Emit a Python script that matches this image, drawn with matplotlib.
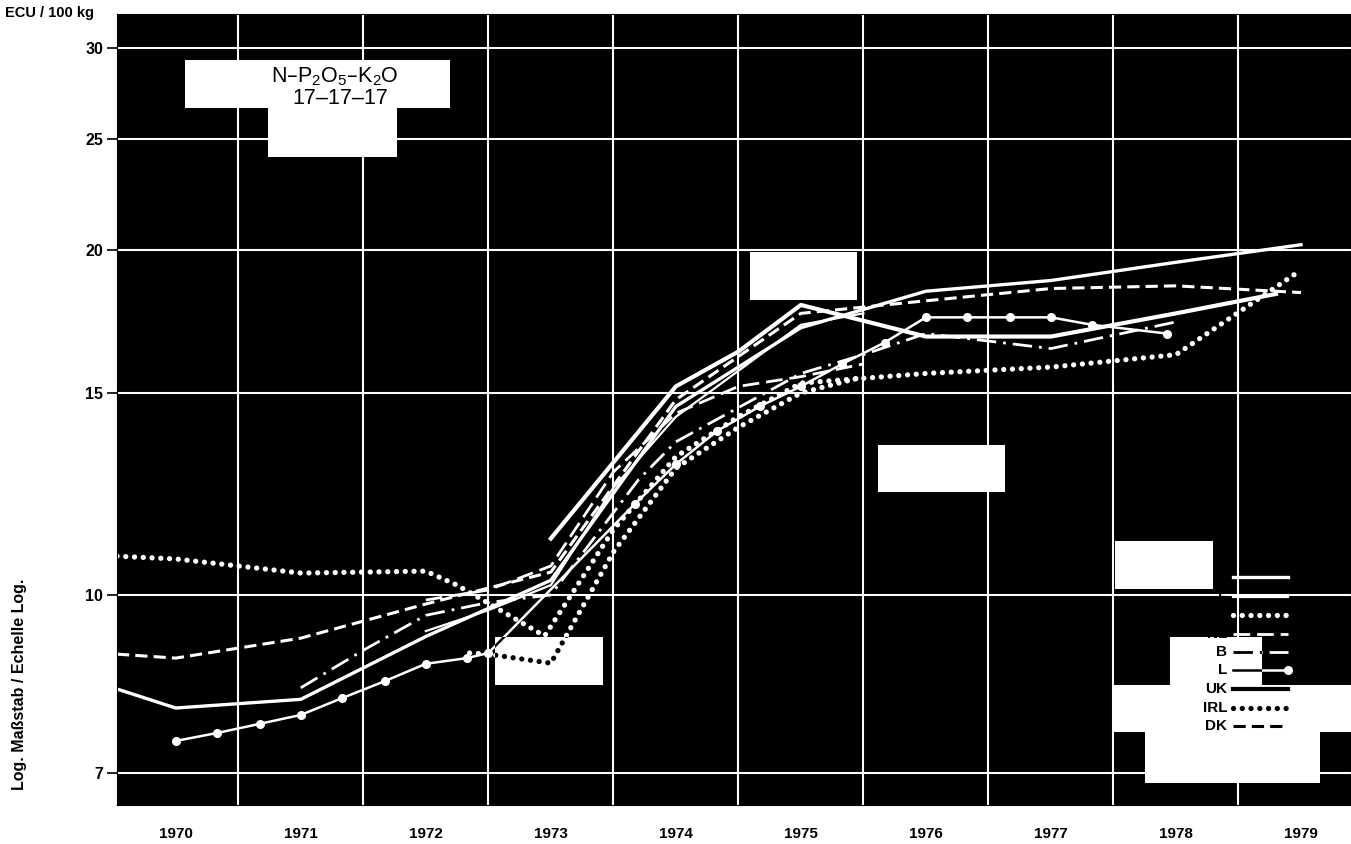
import matplotlib
matplotlib.use('Agg')
import matplotlib.pyplot as plt
from matplotlib.path import Path
from matplotlib.patches import PathPatch
from matplotlib.ticker import FixedLocator, FixedFormatter, NullLocator, NullFormatter

plt.rcParams['font.family'] = ['Liberation Sans', 'DejaVu Sans']
plt.rcParams['mathtext.default'] = 'regular'

# year labels sit in the middle of each year band
years = list(range(1970, 1980))
y_ticks = [7, 10, 15, 20, 25, 30]

# ECU / 100 kg, x in fractional years
d_x = [1970.03, 1970.5, 1971.5, 1972.5, 1973.5, 1974.5, 1975.5, 1976.5, 1977.5, 1978.5, 1979.5]
d_y = [8.28, 7.97, 8.11, 9.2, 10.3, 14.6, 17.1, 18.4, 18.8, 19.5, 20.2]

f_x = [1972.5, 1973.0, 1973.5, 1974.0, 1974.5, 1975.5, 1976.0]
f_y = [9.3, 9.7, 10.2, 12.4, 14.3, 17.2, 17.6]

i_x = [1970.03, 1970.5, 1971.5, 1972.5, 1972.75, 1973.45, 1974.0, 1974.5, 1975.0, 1975.5,
       1976.5, 1977.5, 1978.5, 1979.5]
i_y = [10.81, 10.75, 10.45, 10.49, 10.2, 9.21, 11.4, 13.2, 14.3, 15.3,
       15.6, 15.8, 16.2, 19.2]

nl_x = [1972.5, 1973.0, 1973.5, 1974.0, 1974.5, 1975.0, 1975.5, 1976.0]
nl_y = [9.9, 10.1, 10.6, 12.8, 14.4, 15.2, 15.5, 15.9]

b_x = [1971.5, 1972.0, 1972.5, 1973.0, 1973.5, 1974.2, 1974.5, 1975.5, 1976.0, 1976.5, 1977.5, 1978.5]
b_y = [8.3, 8.95, 9.6, 9.85, 10.0, 12.6, 13.6, 15.6, 16.2, 16.9, 16.4, 17.3]

l_x = [1970.5, 1970.83, 1971.17, 1971.5, 1971.83, 1972.17, 1972.5, 1972.83, 1973.0,
       1974.17, 1974.5, 1974.83, 1975.17, 1975.5, 1975.83, 1976.17, 1976.5, 1976.83,
       1977.17, 1977.5, 1977.83, 1978.43]
l_y = [7.46, 7.58, 7.72, 7.86, 8.13, 8.41, 8.71, 8.81, 8.9,
       12.0, 13.0, 13.9, 14.6, 15.2, 15.9, 16.6, 17.46, 17.46,
       17.46, 17.46, 17.2, 16.9]

uk_x = [1973.5, 1974.5, 1975.0, 1975.5, 1976.5, 1977.5, 1978.5, 1979.3]
uk_y = [11.2, 15.2, 16.3, 17.9, 16.8, 16.8, 17.6, 18.3]

irl_x = [1972.85, 1973.0, 1973.5, 1974.0, 1974.5, 1975.0, 1975.5, 1976.0]
irl_y = [8.9, 8.88, 8.72, 10.9, 12.9, 14.0, 15.0, 15.5]

dk_x = [1970.03, 1970.5, 1971.5, 1972.5, 1973.5, 1974.5, 1975.5, 1976.5, 1977.5, 1978.5, 1979.5]
dk_y = [8.88, 8.81, 9.17, 9.82, 10.47, 14.8, 17.6, 18.05, 18.5, 18.6, 18.35]

countries = ['D', 'F', 'I', 'NL', 'B', 'L', 'UK', 'IRL', 'DK']
series = [(d_x, d_y), (f_x, f_y), (i_x, i_y), (nl_x, nl_y), (b_x, b_y),
          (l_x, l_y), (uk_x, uk_y), (irl_x, irl_y), (dk_x, dk_y)]

dots = dict(lw=3.8, linestyle=(0, (0.01, 1.65)), dash_capstyle='round')
styles = {
    'D': dict(lw=2.4),
    'F': dict(lw=1.6),
    'I': dots,
    'NL': dict(lw=2.0, linestyle=(0, (6, 2.5))),
    'B': dict(lw=2.0, linestyle=(0, (7, 2.5, 1, 2.5))),
    'L': dict(lw=1.8, marker='o', ms=5.5),
    'UK': dict(lw=3.0),
    'IRL': dots,
    'DK': dict(lw=2.2, linestyle=(0, (4, 2))),
}

W, H = 1351, 844
fig = plt.figure(figsize=(W / 100, H / 100), dpi=100)
ax = fig.add_axes([117 / W, 1 - 805 / H, 1 - 117 / W, (805 - 14) / H])
ax.set_facecolor('black')
ax.set_yscale('log')
ax.set_xlim(1970.03, 1979.9)
ax.set_ylim(6.56, 32.1)

ax.yaxis.set_major_locator(FixedLocator(y_ticks))
ax.yaxis.set_major_formatter(FixedFormatter([str(v) for v in y_ticks]))
ax.yaxis.set_minor_locator(NullLocator())
ax.xaxis.set_major_locator(FixedLocator([y + 0.5 for y in years]))
ax.xaxis.set_major_formatter(FixedFormatter([str(y) for y in years]))
ax.xaxis.set_minor_locator(FixedLocator(years[1:]))
ax.xaxis.set_minor_formatter(NullFormatter())
ax.set_axisbelow(True)
ax.grid(True, which='major', axis='y', color='white', lw=1.5)
ax.grid(True, which='minor', axis='x', color='white', lw=1.5)
ax.tick_params(axis='x', which='both', length=0, pad=16, labelsize=11)
ax.tick_params(axis='y', direction='out', length=7, width=1.2, pad=3, labelsize=11.5)
for lab in ax.get_xticklabels() + ax.get_yticklabels():
    lab.set_fontweight('bold')
for s in ax.spines.values():
    s.set_color('black')

# light patches of the scan (label boxes), in pixels
boxes = [(185, 60, 450, 108), (268, 108, 397, 157), (750, 252, 857, 300),
         (878, 445, 1005, 492), (495, 637, 603, 685), (1115, 541, 1213, 589),
         (1170, 637, 1262, 685), (1112, 685, 1351, 732), (1145, 732, 1320, 783)]
verts, codes = [], []
for x0, y0, x1, y1 in boxes:
    pts = [(x0 / W, 1 - y0 / H), (x1 / W, 1 - y0 / H), (x1 / W, 1 - y1 / H),
           (x0 / W, 1 - y1 / H), (x0 / W, 1 - y0 / H)]
    verts += pts
    codes += [Path.MOVETO] + [Path.LINETO] * 3 + [Path.CLOSEPOLY]
cover = PathPatch(Path(verts, codes), transform=fig.transFigure,
                  facecolor='white', edgecolor='none', zorder=3)
ax.add_patch(cover)

# white lines, and black copies where the scan turned light
for name, (xs, ys) in zip(countries, series):
    st = styles[name]
    ax.plot(xs, ys, color='white', zorder=2, **st)
    ax.plot(xs, ys, color='black', zorder=4, clip_path=cover, **st)

# legend
leg_rows = [577, 597, 615, 634, 652, 670, 689, 708, 726]
for name, py in zip(countries, leg_rows):
    st = dict(styles[name])
    yy = (805 - py) / 791
    x0, x1 = (1233 - 117) / 1234, (1288 - 117) / 1234
    if name == 'L':
        st['markevery'] = [1]
    for col, z, clip in (('white', 2, None), ('black', 4, cover)):
        ln, = ax.plot([x0, x1], [yy, yy], color=col, zorder=z, transform=ax.transAxes, **st)
        if clip is not None:
            ln.set_clip_path(clip)
    ax.text((1227 - 117) / 1234, yy, name, transform=ax.transAxes, ha='right', va='center',
            color='black', fontweight='bold', fontsize=11, zorder=6)

fig.text(335 / W, 1 - 77 / H, 'N–P$_2$O$_5$–K$_2$O', ha='center', va='center', fontsize=15.5, zorder=6)
fig.text(340 / W, 1 - 99 / H, '17–17–17', ha='center', va='center', fontsize=15.5, zorder=6)

fig.text(5 / W, 1 - 13 / H, 'ECU / 100 kg', ha='left', va='center', fontsize=10.5, fontweight='bold')
fig.text(20 / W, 1 - 684 / H, 'Log. Maßstab / Echelle Log.', rotation=90, ha='center', va='center',
         fontsize=11.5, fontweight='bold')

fig.savefig('out.png', dpi=100, facecolor='white')
